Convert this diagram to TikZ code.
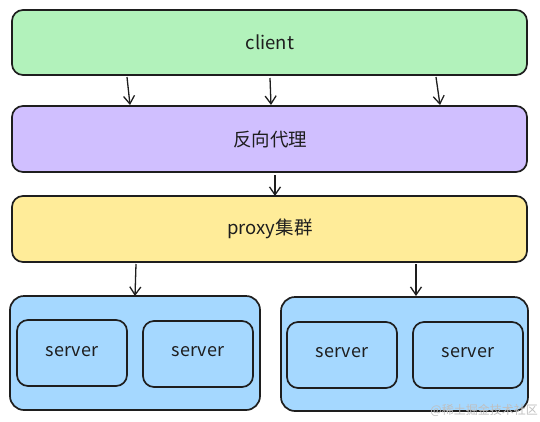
\documentclass[tikz,border=0pt]{standalone}
\usepackage{fontspec}
\setmainfont{Noto Sans CJK SC}
\usetikzlibrary{arrows.meta}
\definecolor{strokec}{HTML}{1E1E1E}
\definecolor{greenf}{HTML}{B2F2BB}
\definecolor{purplef}{HTML}{D0BFFF}
\definecolor{yellowf}{HTML}{FFEC99}
\definecolor{bluef}{HTML}{A5D8FF}
\begin{document}
\begin{tikzpicture}[x=1pt,y=-1pt,
  box/.style={draw=strokec,line width=1.7pt,rounded corners=11pt,inner sep=0pt},
  lbl/.style={font=\fontsize{18.5}{22}\selectfont,text=strokec},
  slbl/.style={font=\fontsize{18}{21}\selectfont,text=strokec},
  conn/.style={draw=strokec,line width=1.3pt,-{Straight Barb[length=8pt,width=11pt,line width=1.3pt]}}]
\useasboundingbox (0,0) rectangle (540,421);
% bars
\draw[box,fill=greenf] (12,10) rectangle (527,75);
\node[lbl] (client) at (270,42) {client};
\coordinate (clientS1) at (127,77);
\coordinate (clientS2) at (270,78);
\coordinate (clientS3) at (436,77);
\draw[box,fill=purplef] (12,106) rectangle (527,172);
\node[lbl] (rp) at (270,139) {反向代理};
\coordinate (rpN1) at (130,105);
\coordinate (rpN2) at (271,105);
\coordinate (rpN3) at (440,105);
\coordinate (rpS) at (275,175);
\draw[box,fill=yellowf] (12,196) rectangle (527,262);
\node[lbl] (px) at (270,229) {proxy集群};
\coordinate (pxN) at (275,196);
\coordinate (pxS1) at (136,264);
\coordinate (pxS2) at (416,264);
% clusters
\draw[box,fill=bluef,rounded corners=14pt] (10,296) rectangle (260,410);
\coordinate (c1N) at (135,296);
\draw[box,fill=bluef,rounded corners=14pt] (281,297) rectangle (528,411);
\coordinate (c2N) at (416,296);
\draw[box,fill=bluef] (17,320) rectangle (127,386);
\node[slbl] (s1) at (72,352) {server};
\draw[box,fill=bluef] (143,321) rectangle (253,387);
\node[slbl] (s2) at (198,352) {server};
\draw[box,fill=bluef] (287,322) rectangle (397,388);
\node[slbl] (s3) at (342,353) {server};
\draw[box,fill=bluef] (413,322) rectangle (523,388);
\node[slbl] (s4) at (468,353) {server};
% connectors
\draw[conn] (clientS1) -- (rpN1);
\draw[conn] (clientS2) -- (rpN2);
\draw[conn] (clientS3) -- (rpN3);
\draw[conn] (rpS) -- (pxN);
\draw[conn] (pxS1) -- (c1N);
\draw[conn] (pxS2) -- (c2N);
% watermark
\node[anchor=east,text=black!25,font=\fontsize{12}{14}\selectfont,inner sep=0pt] (wm) at (538,410) {@稀土掘金技术社区};
\end{tikzpicture}
\end{document}
